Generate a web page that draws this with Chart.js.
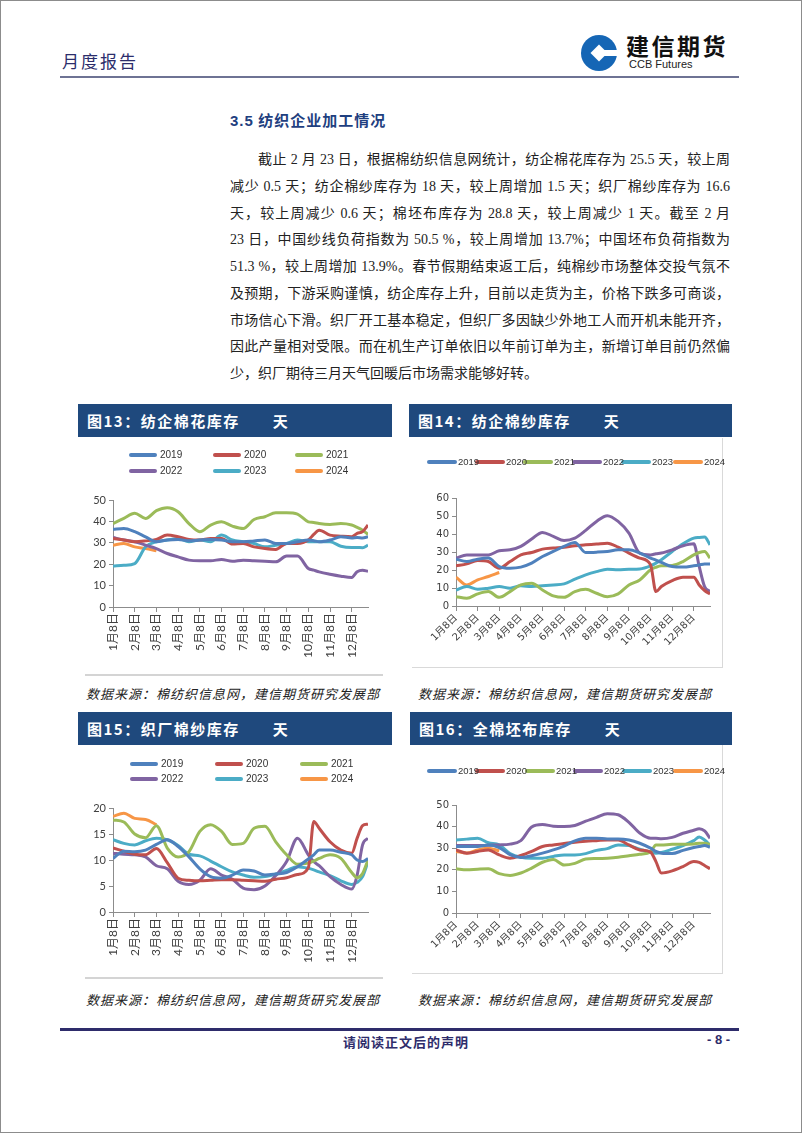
<!DOCTYPE html>
<html><head><meta charset="utf-8">
<script src="https://cdn.jsdelivr.net/npm/chart.js@4.4.0/dist/chart.umd.min.js"></script>
<style>
html,body{margin:0;padding:0;}
body{width:802px;height:1133px;position:relative;background:#fff;font-family:"Noto Sans CJK SC",sans-serif;overflow:hidden;}
#frame{position:absolute;left:0;top:0;width:802px;height:1133px;box-sizing:border-box;border:1px solid #8c8c8c;}
.abs{position:absolute;}
.bar{position:absolute;background:#1f497d;color:#fff;font-weight:bold;font-size:15px;letter-spacing:1.5px;line-height:33px;height:33px;padding-left:9px;box-sizing:border-box;white-space:pre;}
.src{position:absolute;font-size:13px;font-style:italic;letter-spacing:1px;color:#222;white-space:nowrap;}
.para{position:absolute;left:230px;width:500px;font-family:"Liberation Serif","Noto Sans CJK SC",serif;font-size:14px;color:#222;line-height:26.75px;}
.para div{text-align:justify;text-align-last:justify;text-justify:inter-character;height:26.75px;white-space:nowrap;}
.para div.last{text-align-last:left;}
.lg-line{position:absolute;height:4px;border-radius:2px;z-index:1;}
.lg-text{position:absolute;font-family:"Liberation Sans Narrow","Arial Narrow","Liberation Sans",sans-serif;font-size:10px;color:#333;line-height:12px;z-index:2;}
canvas{position:absolute;}
</style></head>
<body>
<div id="frame"></div>

<!-- header -->
<div class="abs" style="left:62px;top:48px;font-size:17px;letter-spacing:2px;color:#2b2d6b;">月度报告</div>
<svg class="abs" style="left:580px;top:32px" width="40" height="42" viewBox="0 0 40 42">
  <circle cx="19" cy="21" r="18" fill="#1566b5"/>
  <rect x="13" y="15" width="12" height="12" fill="#fff" transform="rotate(45 19 21)"/>
  <rect x="22" y="18" width="18" height="6" fill="#fff"/>
</svg>
<div class="abs" style="left:626px;top:31px;font-size:23px;font-weight:bold;letter-spacing:2.5px;color:#111;line-height:28px;">建信期货</div>
<div class="abs" style="left:629px;top:58px;font-family:'Liberation Sans',sans-serif;font-size:11px;color:#222;line-height:12px;">CCB Futures</div>
<div class="abs" style="left:60px;top:76px;width:679px;height:2px;background:#6e7394;"></div>

<!-- section -->
<div class="abs" style="left:230px;top:109px;font-size:15px;font-weight:bold;color:#1f3f7f;letter-spacing:1px;"><span style="font-family:'Liberation Sans',sans-serif;">3.5</span> 纺织企业加工情况</div>
<div class="para" style="top:147px;">
<div style="padding-left:28px;">截止 2 月 23 日，根据棉纺织信息网统计，纺企棉花库存为 25.5 天，较上周</div>
<div>减少 0.5 天；纺企棉纱库存为 18 天，较上周增加 1.5 天；织厂棉纱库存为 16.6</div>
<div>天，较上周减少 0.6 天；棉坯布库存为 28.8 天，较上周减少 1 天。截至 2 月</div>
<div>23 日，中国纱线负荷指数为 50.5 %，较上周增加 13.7%；中国坯布负荷指数为</div>
<div>51.3 %，较上周增加 13.9%。春节假期结束返工后，纯棉纱市场整体交投气氛不</div>
<div>及预期，下游采购谨慎，纺企库存上升，目前以走货为主，价格下跌多可商谈，</div>
<div>市场信心下滑。织厂开工基本稳定，但织厂多因缺少外地工人而开机未能开齐，</div>
<div>因此产量相对受限。而在机生产订单依旧以年前订单为主，新增订单目前仍然偏</div>
<div class="last">少，织厂期待三月天气回暖后市场需求能够好转。</div>
</div>

<!-- panels -->
<div class="bar" style="left:78px;top:404px;width:314px;">图13：纺企棉花库存　　天</div>
<div class="bar" style="left:409px;top:404px;width:323px;">图14：纺企棉纱库存　　天</div>
<div class="bar" style="left:78px;top:712px;width:314px;">图15：织厂棉纱库存　　天</div>
<div class="bar" style="left:410px;top:712px;width:322px;">图16：全棉坯布库存　　天</div>

<div class="abs" style="left:412px;top:438px;width:310px;height:229px;border-right:1px solid #d9d9d9;border-bottom:1px solid #d9d9d9;"></div>
<div class="abs" style="left:412px;top:745px;width:310px;height:228px;border-right:1px solid #d9d9d9;border-bottom:1px solid #d9d9d9;"></div>
<div class="abs" style="left:85px;top:674px;width:298px;height:2px;background:#d4d4d4;"></div>
<div class="abs" style="left:85px;top:977px;width:298px;height:2px;background:#d4d4d4;"></div>

<canvas id="c13" width="313" height="230" style="left:78px;top:440px;"></canvas>
<canvas id="c14" width="313" height="227" style="left:410px;top:440px;"></canvas>
<canvas id="c15" width="313" height="228" style="left:78px;top:745px;"></canvas>
<canvas id="c16" width="313" height="228" style="left:410px;top:745px;"></canvas>
<div id="legends"></div>

<div class="src" style="left:86px;top:684px;">数据来源：棉纺织信息网，建信期货研究发展部</div>
<div class="src" style="left:418px;top:684px;">数据来源：棉纺织信息网，建信期货研究发展部</div>
<div class="src" style="left:86px;top:990px;">数据来源：棉纺织信息网，建信期货研究发展部</div>
<div class="src" style="left:418px;top:990px;">数据来源：棉纺织信息网，建信期货研究发展部</div>

<!-- footer -->
<div class="abs" style="left:60px;top:1028px;width:679px;height:3px;background:#2e2c6b;"></div>
<div class="abs" style="left:343px;top:1032px;font-size:13px;font-weight:bold;letter-spacing:1px;color:#2e2c6b;">请阅读正文后的声明</div>
<div class="abs" style="left:707px;top:1032px;font-size:13px;font-weight:bold;color:#2e2c6b;font-family:'Liberation Sans',sans-serif;">- 8 -</div>

<script>
// ---- categories / ticks ----
const monthLabels = ['1月8日','2月8日','3月8日','4月8日','5月8日','6月8日','7月8日','8月8日','9月8日','10月8日','11月8日','12月8日'];
// sample positions, in months after 1月8日
const xMonths = [0,0.5,1,1.5,2,2.5,3,3.5,4,4.5,5,5.5,6,6.5,7,7.5,8,8.5,9,9.25,9.5,10,10.5,11,11.25,11.5,11.75];
const years = ['2019','2020','2021','2022','2023','2024'];
const colors = ['#4f81bd','#c0504d','#9bbb59','#8064a2','#4bacc6','#f79646'];

// ---- 图13 纺企棉花库存 ----
const fig13_2019 = [36.3,36.7,35.2,32.8,30.5,31.3,31.6,30.9,31.3,31.6,31.3,30.5,30.5,30.9,31.3,29.7,29.7,30.5,31.3,31.0,30.5,31.3,32.8,32.3,32.5,32.3,32.8];
const fig13_2020 = [32,31.3,30.5,30.9,31.6,33.6,32.8,31.6,31.3,32,32,29.4,29.7,28.1,27.3,26.9,29.7,29.7,31.3,33.9,35.9,33.6,33.1,32.8,34.4,35.2,38.3];
const fig13_2021 = [39,41.4,43.8,41.4,45,46.4,44.5,39,35.2,38.3,39.8,37.8,36.7,40.9,42.2,44,44,43.4,39.8,39.5,39,38.6,39,38.3,37.2,35.9,33.9];
const fig13_2022 = [32.5,31.3,30.5,28.9,27.3,25,23.4,21.9,21.6,21.6,22.2,21.4,21.9,21.6,21.4,21.1,23.8,23.8,18,17.2,16.4,15.3,14.4,13.8,16.5,17.2,16.7];
const fig13_2023 = [19.1,19.5,20.3,28.1,30.5,31.3,32,30.5,31.3,30.5,33.6,31.3,30.5,29.7,28.1,28.9,29.7,31.3,30.5,30.5,30.5,30.5,28.4,27.8,27.8,27.7,28.9];
const fig13_2024 = [28.9,29.7,28.1,27.3,26.3];

// ---- 图14 纺企棉纱库存 ----
const fig14_2019 = [26,24.7,26,26.6,21.9,21,21.6,23.8,27.5,30.3,33.1,35.3,29.7,29.9,30.3,31.2,31.2,29.4,26.6,25.5,24.2,21.9,21.6,22.3,22.8,23.4,23.4];
const fig14_2020 = [22.3,23.4,25.3,24.7,21,24.7,28.4,29.7,31.6,32.2,32.7,33.5,34,34.4,34.9,32.7,29.4,26.6,22.9,8,10.8,14.1,16,16,11.7,8.6,6.7];
const fig14_2021 = [5.2,4.3,6.7,8,4.8,8,11.7,12.6,8.9,5.6,4.8,8,9.3,7.1,5.2,6.7,11.7,14.5,20.1,21.5,22.3,22.5,24.7,28.4,29.7,30.3,26.6];
const fig14_2022 = [26.6,28.4,28.4,28.4,30.7,31.2,33.1,37.2,40.9,38.7,36.4,37.7,42,47,50.2,47,40.5,29.4,28.4,29,29.4,31.2,33.5,34.6,22,10.8,8];
const fig14_2023 = [8.9,10.8,9.3,9.9,10.8,9.9,11.2,10.8,11.2,11.7,12.3,14.9,17.3,19.1,20.4,20.1,20.4,20.6,22.3,23.8,25.7,30.3,34.6,37.7,38.1,38.3,34];
const fig14_2024 = [16,11.7,14.5,16.4,18.6];

// ---- 图15 织厂棉纱库存 ----
const fig15_2019 = [10.3,11.7,11.6,11.9,13,13.9,12.6,10.6,8.3,6.8,6.5,7.1,8.1,7.9,7.1,7.3,7.6,8.7,10.2,11,11.9,11.9,11.5,11,10,9.7,10.3];
const fig15_2020 = [12.3,11.7,11.1,11,12.2,9.5,6.5,6.1,6,6.1,6.2,6.2,6.1,6,5.9,6.3,6.6,7.2,8.5,17.4,16.1,13.5,11.9,11.3,14.2,16.6,16.9];
const fig15_2021 = [17.7,17.3,15,14.3,16.6,12.3,10.6,11.6,15.5,16.8,15.5,13,13.2,16.1,16.5,13.5,11,9.2,9.4,9.8,10.3,11,10.3,7.6,6.6,7.4,10];
const fig15_2022 = [11.3,11.1,11,10.6,8.9,8.3,5.9,5.3,6.1,8.3,7.1,6.3,4.6,4.3,5,7,9.7,14.2,11,9.7,8.9,6.8,5.3,4.4,7.1,12.9,14.2];
const fig15_2023 = [13.9,13.2,12.9,13.7,14.2,13.9,12.8,11.1,10.8,9.8,8.7,7.7,7.1,6.7,6.8,7.3,8,8.7,8.4,8.1,7.7,7,6,5.3,5.7,6.8,9.7];
const fig15_2024 = [18.4,19,18,17.8,16.8];

// ---- 图16 全棉坯布库存 ----
const fig16_2019 = [30.8,30.8,30.8,31.5,30.3,27,25.7,26.5,27.7,29.2,31,33.4,34.6,34.6,34.3,34.3,33.8,32.3,30,28.5,27.7,27.5,29,30.3,30.8,31.2,30.5];
const fig16_2020 = [29.2,27.7,28.5,29.2,26.9,25.4,26.6,28.5,30.8,31.5,32.2,32.8,33.2,33.5,33.8,33.8,31.5,29.2,28.2,23.8,18.5,19.5,21.5,23.8,23.4,22,20.5];
const fig16_2021 = [20.5,20,20.3,20.5,18.2,17.4,18.5,20.8,23.5,24.8,22.2,23,25,25.2,25.4,25.8,26.5,27.2,28.3,31.5,31.5,31.8,31.8,32,32.3,32.3,31.8];
const fig16_2022 = [31.2,31.2,31.2,31.4,31.5,31.9,33.5,39.8,41,40.2,40,40.5,42.5,44.3,46,45.5,42,37,34.6,34.6,34.4,35,36.9,38.3,39,38,34.6];
const fig16_2023 = [33.8,34.2,34.6,32.5,31.5,27.5,25.8,25.4,25.4,26.2,26.9,26.9,27.5,29,29.8,31.5,31.2,29.5,28.2,27.7,28,29.5,31.2,33.5,35.2,33.8,31.5];
const fig16_2024 = [28.5,27.8,29.2,30,28.8];

const axisColor = '#8c8c8c';

function drawChart(id, seriesList, cfg) {
  const datasets = seriesList.map((arr, i) => ({
    label: years[i],
    data: arr.map((v, j) => ({x: xMonths[j], y: v})),
    borderColor: colors[i],
    backgroundColor: colors[i],
    borderWidth: 3,
    pointRadius: 0,
    fill: false,
    cubicInterpolationMode: 'monotone'
  }));
  new Chart(document.getElementById(id), {
    type: 'line',
    data: {datasets},
    options: {
      responsive: false, animation: false, devicePixelRatio: 1,
      layout: {padding: {top: cfg.padTop, right: cfg.padRight, left: 0, bottom: 0}},
      plugins: {legend: {display: false}, tooltip: {enabled: false}},
      scales: {
        x: {
          type: 'linear', min: 0, max: 11.75,
          afterBuildTicks: (a) => { a.ticks = monthLabels.map((_, i) => ({value: i})); },
          afterFit: (a) => { a.height = cfg.xH; },
          ticks: {autoSkip: false, minRotation: cfg.rot, maxRotation: cfg.rot, padding: 1,
                  callback: (v, i) => monthLabels[i],
                  font: {family: cfg.xFont, size: cfg.xSize}, color: '#404040'},
          grid: {display: true, drawOnChartArea: false, drawTicks: true, tickLength: 5, color: axisColor},
          border: {display: true, color: axisColor, width: 1}
        },
        y: {
          min: 0, max: cfg.yMax,
          ticks: {stepSize: cfg.step, padding: 3, font: {family: cfg.yFont, size: cfg.ySize}, color: '#404040'},
          afterFit: (a) => { a.width = cfg.yW; },
          grid: {display: true, drawOnChartArea: false, drawTicks: true, tickLength: 4, color: axisColor},
          border: {display: true, color: axisColor, width: 1}
        }
      }
    }
  });
}

const leftCfg = {padRight: 23, yW: 35, rot: 90, xFont: 'Lato, "Noto Sans CJK SC"', xSize: 12, yFont: 'Lato, sans-serif', ySize: 11};
const rightCfg = {padRight: 13, yW: 46, rot: 45, xFont: '"DejaVu Sans", "Noto Sans CJK SC"', xSize: 10, yFont: '"DejaVu Sans", sans-serif', ySize: 10};

drawChart('c13', [fig13_2019, fig13_2020, fig13_2021, fig13_2022, fig13_2023, fig13_2024],
  Object.assign({}, leftCfg, {padTop: 60, xH: 63, yMax: 50, step: 10}));
drawChart('c14', [fig14_2019, fig14_2020, fig14_2021, fig14_2022, fig14_2023, fig14_2024],
  Object.assign({}, rightCfg, {padTop: 58, xH: 61, yMax: 60, step: 10}));
drawChart('c15', [fig15_2019, fig15_2020, fig15_2021, fig15_2022, fig15_2023, fig15_2024],
  Object.assign({}, leftCfg, {padTop: 63, xH: 61, yMax: 20, step: 5}));
drawChart('c16', [fig16_2019, fig16_2020, fig16_2021, fig16_2022, fig16_2023, fig16_2024],
  Object.assign({}, rightCfg, {padTop: 60, xH: 60, yMax: 50, step: 10}));

// ---- legends (HTML) ----
const lg = document.getElementById('legends');
function addItem(x, y, w, textOff, i, fs) {
  const l = document.createElement('div');
  l.className = 'lg-line';
  l.style.cssText = `left:${x}px;top:${y - 2}px;width:${w}px;background:${colors[i]};`;
  lg.appendChild(l);
  const t = document.createElement('div');
  t.className = 'lg-text';
  t.style.cssText = `left:${x + textOff}px;top:${y - 6}px;font-size:${fs}px;`;
  t.textContent = years[i];
  lg.appendChild(t);
}
function gridLegend(rows, cols) {
  years.forEach((_, i) => addItem(cols[i % 3], rows[Math.floor(i / 3)], 28, 31, i, 10));
}
function rowLegend(y, starts) {
  years.forEach((_, i) => addItem(starts[i], y, 30, 31, i, 9.5));
}
gridLegend([455, 471], [129, 213, 295]);
gridLegend([764, 779], [130, 215, 300]);
rowLegend(462, [427, 475, 523, 572, 621, 673]);
rowLegend(771, [427, 475, 525, 573, 622, 673]);
</script>
</body></html>
